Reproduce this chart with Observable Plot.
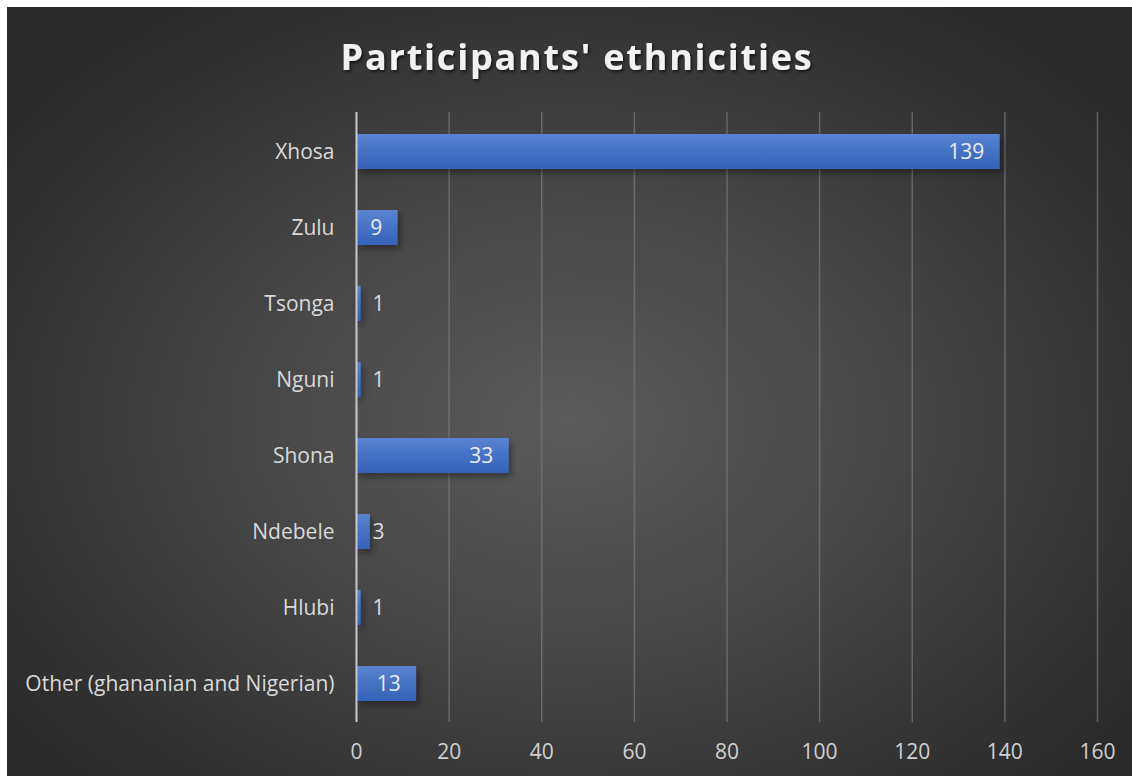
<!DOCTYPE html>
<html>
<head>
<meta charset="utf-8">
<script src="https://cdn.jsdelivr.net/npm/d3@7"></script>
<script src="https://cdn.jsdelivr.net/npm/@observablehq/plot@0.6"></script>
<style>
  html, body { margin: 0; padding: 0; background: #fff; }
  #chart svg { display: block; }
</style>
</head>
<body>
<div id="chart"></div>
<script>
const categories = ["Xhosa", "Zulu", "Tsonga", "Nguni", "Shona", "Ndebele", "Hlubi", "Other (ghananian and Nigerian)"];
const counts = [139, 9, 1, 1, 33, 3, 1, 13];
const xTicks = [0, 20, 40, 60, 80, 100, 120, 140, 160];
const title = "Participants' ethnicities";

const data = categories.map((c, i) => ({category: c, value: counts[i]}));
const inside = data.filter(d => d.value >= 9);
const outside = data.filter(d => d.value < 9);

const font = "'Open Sans', 'Noto Sans', sans-serif";

const chart = Plot.plot({
  width: 1132,
  height: 776,
  marginTop: 112,
  marginBottom: 54,
  marginLeft: 356,
  marginRight: 35,
  style: {
    fontFamily: font,
    fontSize: "21px",
    color: "#d9d9d9",
    background: "radial-gradient(ellipse 62% 65% at 50% 54%, #5c5c5c 0%, #474747 45%, #2a2a2a 100%) 7px 7px / 1125px 769px no-repeat, #ffffff",
    overflow: "visible"
  },
  x: {domain: [0, 160], ticks: xTicks, label: null, tickSize: 0, tickPadding: 22},
  y: {domain: categories, label: null, paddingInner: 0.54, paddingOuter: 0.27, tickSize: 0, tickPadding: 22},
  marks: [
    Plot.ruleX(xTicks.filter(t => t > 0), {stroke: "#777777", strokeWidth: 1.5, strokeOpacity: 0.75}),
    Plot.barX(data, {x: "value", y: "category", fill: "#000", fillOpacity: 0.35, dx: 3, dy: 4, className: "shadow"}),
    Plot.barX(data, {x: "value", y: "category", fill: "url(#barGrad)"}),
    Plot.ruleX([0], {stroke: "#c9c9c9", strokeWidth: 2}),
    Plot.text(inside, {x: "value", y: "category", text: d => String(d.value), textAnchor: "end", dx: -16, fill: "#ececec", fontSize: 21}),
    Plot.text(outside, {x: 0, y: "category", text: d => String(d.value), textAnchor: "start", dx: 16, fill: "#dcdcdc", fontSize: 21}),
    Plot.axisX({ticks: xTicks, tickSize: 0, tickPadding: 22, fill: "#d0d0d0", fontSize: 21}),
    Plot.axisY({tickSize: 0, tickPadding: 22, fill: "#d9d9d9", fontSize: 21}),
    Plot.text([title], {frameAnchor: "top", dx: -150, dy: -68, fontSize: 36, fontWeight: "bold", fill: "#f2f2f2", fontFamily: font, className: "title"})
  ]
});

// gradient + soft shadow definitions
const ns = "http://www.w3.org/2000/svg";
const defs = document.createElementNS(ns, "defs");
defs.innerHTML = `
  <linearGradient id="barGrad" x1="0" y1="0" x2="0" y2="1">
    <stop offset="0%" stop-color="#5a84d2"/>
    <stop offset="50%" stop-color="#4472c4"/>
    <stop offset="100%" stop-color="#3562b8"/>
  </linearGradient>
  <filter id="blur" x="-20%" y="-50%" width="140%" height="200%">
    <feGaussianBlur stdDeviation="3"/>
  </filter>
  <filter id="titleShadow" x="-10%" y="-50%" width="120%" height="200%">
    <feDropShadow dx="1.5" dy="2" stdDeviation="1.5" flood-color="#000" flood-opacity="0.6"/>
  </filter>`;
chart.insertBefore(defs, chart.firstChild);
chart.querySelectorAll(".shadow").forEach(g => g.setAttribute("filter", "url(#blur)"));
chart.querySelectorAll(".title text").forEach(t => {
  t.setAttribute("filter", "url(#titleShadow)");
  t.style.letterSpacing = "1.8px";
});
document.getElementById("chart").appendChild(chart);
</script>
</body>
</html>
